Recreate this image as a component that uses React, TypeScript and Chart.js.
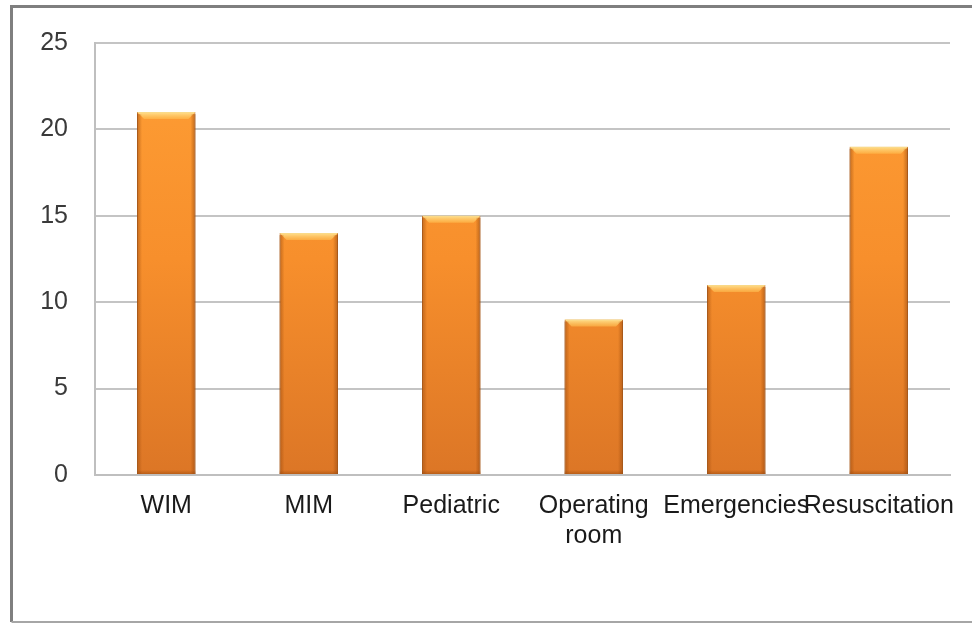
import React, { useEffect, useRef } from "react";
import { Chart, registerables } from "chart.js";

Chart.register(...registerables);

const categories: (string | string[])[] = ["WIM", "MIM", "Pediatric", ["Operating", "room"], "Emergencies", "Resuscitation"];
const values: number[] = [21, 14, 15, 9, 11, 19];
const yTicks: number[] = [0, 5, 10, 15, 20, 25];

const framePlugin = {
  id: "frame",
  beforeDraw(chart: any) {
    const ctx = chart.ctx;
    ctx.save();
    ctx.fillStyle = "#ffffff";
    ctx.fillRect(0, 0, chart.width, chart.height);
    ctx.strokeStyle = "#7f7f7f";
    ctx.lineWidth = 3;
    ctx.beginPath();
    ctx.moveTo(chart.width + 5, 6.5);
    ctx.lineTo(11.5, 6.5);
    ctx.lineTo(11.5, 622);
    ctx.stroke();
    ctx.strokeStyle = "#a6a6a6";
    ctx.lineWidth = 2;
    ctx.beginPath();
    ctx.moveTo(11.5, 622);
    ctx.lineTo(chart.width + 5, 622);
    ctx.stroke();
    ctx.restore();
  },
};

const bevelPlugin = {
  id: "bevel",
  afterDatasetsDraw(chart: any) {
    const ctx = chart.ctx;
    const meta = chart.getDatasetMeta(0);
    ctx.save();
    meta.data.forEach((bar: any) => {
      const { x, y, base, width } = bar.getProps(["x", "y", "base", "width"], true);
      const l = x - width / 2;
      const r = x + width / 2;
      const b = 7;
      // top bevel highlight
      const g = ctx.createLinearGradient(0, y, 0, y + b);
      g.addColorStop(0, "rgba(255,230,150,0.95)");
      g.addColorStop(1, "rgba(255,190,80,0.6)");
      ctx.fillStyle = g;
      ctx.beginPath();
      ctx.moveTo(l, y);
      ctx.lineTo(r, y);
      ctx.lineTo(r - b, y + b);
      ctx.lineTo(l + b, y + b);
      ctx.closePath();
      ctx.fill();
      // side shading
      const sg = ctx.createLinearGradient(l, 0, l + 5, 0);
      sg.addColorStop(0, "rgba(150,70,10,0.55)");
      sg.addColorStop(1, "rgba(150,70,10,0)");
      ctx.fillStyle = sg;
      ctx.fillRect(l, y + 2, 5, base - y - 2);
      const rg = ctx.createLinearGradient(r - 5, 0, r, 0);
      rg.addColorStop(0, "rgba(150,70,10,0)");
      rg.addColorStop(1, "rgba(150,70,10,0.6)");
      ctx.fillStyle = rg;
      ctx.fillRect(r - 5, y + 2, 5, base - y - 2);
      // bottom bevel
      const bg = ctx.createLinearGradient(0, base - 4, 0, base);
      bg.addColorStop(0, "rgba(150,70,10,0)");
      bg.addColorStop(1, "rgba(150,70,10,0.5)");
      ctx.fillStyle = bg;
      ctx.fillRect(l, base - 4, width, 4);
    });
    ctx.restore();
  },
};

export default function App() {
  const ref = useRef<HTMLCanvasElement | null>(null);
  useEffect(() => {
    if (!ref.current) return;
    const chart = new Chart(ref.current, {
      type: "bar",
      data: {
        labels: categories,
        datasets: [
          {
            data: values,
            backgroundColor: (c: any) => {
              const area = c.chart.chartArea;
              if (!area) return "#f39028";
              const g = c.chart.ctx.createLinearGradient(0, area.top, 0, area.bottom);
              g.addColorStop(0, "#ff9f35");
              g.addColorStop(0.5, "#f78f2c");
              g.addColorStop(1, "#dc7626");
              return g;
            },
            borderColor: "#b8621a",
            borderWidth: 1,
            barPercentage: 0.41,
            categoryPercentage: 1,
          },
        ],
      },
      options: {
        responsive: false,
        animation: false,
        layout: { padding: { top: 43, right: 22, left: 0, bottom: 0 } },
        plugins: { legend: { display: false }, tooltip: { enabled: false } },
        scales: {
          x: {
            grid: { display: false, drawTicks: false },
            border: { display: true, color: "#bfbfbf", width: 2 },
            ticks: {
              color: "#1a1a1a",
              font: { family: "'Liberation Sans', Arial, sans-serif", size: 25 },
              padding: 16,
              maxRotation: 0,
              minRotation: 0,
              autoSkip: false,
            },
            afterFit: (s: any) => {
              s.height = 149;
            },
          },
          y: {
            min: 0,
            max: 25,
            afterBuildTicks: (s: any) => {
              s.ticks = yTicks.map((v) => ({ value: v }));
            },
            grid: { color: "#c4c4c4", lineWidth: 2, drawTicks: false },
            border: { display: true, color: "#bfbfbf", width: 2 },
            ticks: {
              color: "#3a3a3a",
              font: { family: "'Liberation Sans', Arial, sans-serif", size: 25 },
              padding: 27,
            },
            afterFit: (s: any) => {
              s.width = 95;
            },
          },
        },
      },
      plugins: [framePlugin, bevelPlugin],
    });
    return () => chart.destroy();
  }, []);
  return (
    <div style={{ position: "absolute", left: 0, top: 0, width: 972, height: 624, background: "#fff" }}>
      <canvas ref={ref} width={972} height={624} style={{ display: "block" }} />
    </div>
  );
}
